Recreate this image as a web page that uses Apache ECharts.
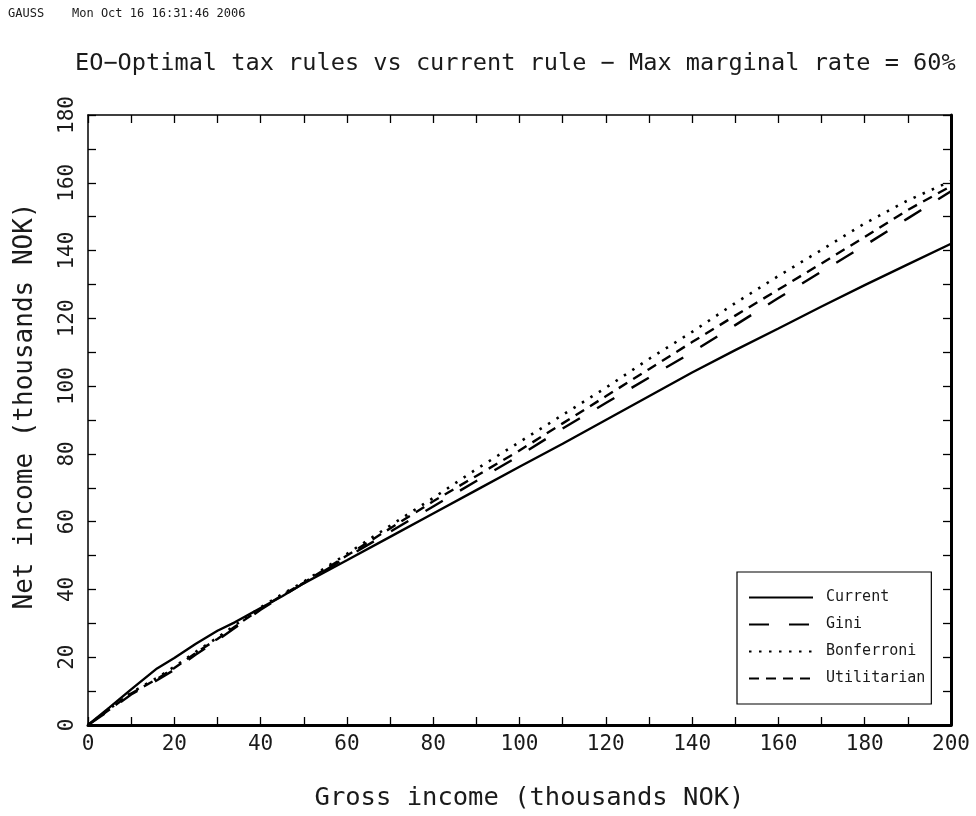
<!DOCTYPE html>
<html>
<head>
<meta charset="utf-8">
<script src="https://cdn.jsdelivr.net/npm/echarts@6/dist/echarts.min.js"></script>
<style>
html,body{margin:0;padding:0;background:#fff;}
#chart{width:976px;height:816px;}
</style>
</head>
<body>
<div id="chart"></div>
<script>
// Gross income (thousands NOK)
var grossIncome = [0,5,10,16,20,25,30,34,40,45,50,60,70,80,90,100,110,120,130,140,150,160,170,180,190,200];
// Net income (thousands NOK) per rule
var currentNet     = [0,5.2,10.5,16.7,19.8,24,27.8,30.3,34.5,38,41.8,48.6,55.5,62.4,69.3,76.2,83,90,97,104,110.6,117,123.5,129.8,135.9,142];
var giniNet        = [0,4.3,9,13.2,16.3,20.8,25,28.6,34,38,41.8,49.5,57,64.5,72,79.5,87.5,95,102.5,110,118,126,133.8,141.5,149.5,157.5];
var bonferroniNet  = [0,4.8,9.5,13.9,17.2,21.6,25.8,29.4,34.7,38.6,42.3,50.5,58.8,67,75.5,83.5,91.5,99.5,108,116,124.5,132.5,140.2,148,154.8,160.5];
var utilitarianNet = [0,4.6,9.3,13.6,16.8,21.3,25.4,29,34.3,38.3,42,50,58,66,73.5,81,89,97,105,113,120.8,128.5,136.2,144,152,159];
var seriesNames = ['Current','Gini','Bonferroni','Utilitarian'];
var xTickLabels = ['0','20','40','60','80','100','120','140','160','180','200'];
var yTickLabels = ['0','20','40','60','80','100','120','140','160','180'];

var FONT = '"DejaVu Sans Mono", "Liberation Mono", monospace';
var INK = '#1a1a1a';
function pairs(ys){ return grossIncome.map(function(x,i){ return [x, ys[i]]; }); }
function every20(list){ return function(v){ var s = String(Math.round(v)); return list.indexOf(s) >= 0 ? s : ''; }; }

var chart = echarts.init(document.getElementById('chart'), null, {renderer:'canvas'});
var baseTick = {show:true, inside:true, length:8, lineStyle:{color:'#000', width:1.3}};
chart.setOption({
  backgroundColor:'#fff',
  animation:false,
  title:{
    text:'EO\u2212Optimal tax rules vs current rule \u2212 Max marginal rate = 60%',
    left:70, top:47,
    textStyle:{fontFamily:FONT, fontSize:23.6, fontWeight:'normal', color:INK}
  },
  graphic:[
    {type:'text', left:8, top:8, style:{text:'GAUSS', font:'12px ' + FONT, fill:INK}},
    {type:'text', left:72, top:8, style:{text:'Mon Oct 16 16:31:46 2006', font:'12px ' + FONT, fill:INK}}
  ],
  grid:{left:88, right:25, top:115, bottom:85},
  legend:{
    orient:'vertical', left:737, top:572,
    data:seriesNames,
    itemWidth:64, itemHeight:14, itemGap:12,
    padding:[18,6,18,11],
    borderColor:'#000', borderWidth:1.2,
    itemStyle:{opacity:0},
    textStyle:{fontFamily:FONT, fontSize:15, color:INK, padding:[0,0,0,8]}
  },
  xAxis:[
    {type:'value', position:'bottom', min:0, max:200, interval:10,
     name:'Gross income (thousands NOK)', nameLocation:'middle', nameGap:60,
     nameTextStyle:{fontFamily:FONT, fontSize:25.5, color:INK, padding:[0,0,0,20]},
     axisLine:{show:true, onZero:false, lineStyle:{color:'#000', width:3}},
     axisTick:baseTick,
     axisLabel:{formatter:every20(xTickLabels), fontFamily:FONT, fontSize:21, color:INK, margin:9},
     splitLine:{show:false}},
    {type:'value', position:'top', min:0, max:200, interval:10,
     axisLine:{show:true, onZero:false, lineStyle:{color:'#000', width:1.5}},
     axisTick:baseTick, axisLabel:{show:false}, splitLine:{show:false}}
  ],
  yAxis:[
    {type:'value', position:'left', min:0, max:180, interval:10,
     name:'Net income (thousands NOK)', nameLocation:'middle', nameGap:50, nameRotate:90,
     nameTextStyle:{fontFamily:FONT, fontSize:26, color:INK, padding:[0,0,0,28]},
     axisLine:{show:true, onZero:false, lineStyle:{color:'#000', width:1.5}},
     axisTick:baseTick,
     axisLabel:{formatter:every20(yTickLabels), rotate:90, fontFamily:FONT, fontSize:21, color:INK, margin:10},
     splitLine:{show:false}},
    {type:'value', position:'right', min:0, max:180, interval:10,
     axisLine:{show:true, onZero:false, lineStyle:{color:'#000', width:3}},
     axisTick:baseTick, axisLabel:{show:false}, splitLine:{show:false}}
  ],
  series:[
    {name:'Current', type:'line', data:pairs(currentNet), symbol:'none', color:'#000',
     lineStyle:{color:'#000', width:2.4, type:'solid'}},
    {name:'Gini', type:'line', data:pairs(giniNet), symbol:'none', color:'#000',
     lineStyle:{color:'#000', width:2.4, type:[20,20]}},
    {name:'Bonferroni', type:'line', data:pairs(bonferroniNet), symbol:'none', color:'#000',
     lineStyle:{color:'#000', width:2.6, type:[2.5,7.5]}},
    {name:'Utilitarian', type:'line', data:pairs(utilitarianNet), symbol:'none', color:'#000',
     lineStyle:{color:'#000', width:2.4, type:[10,7]}}
  ]
});
</script>
</body>
</html>
